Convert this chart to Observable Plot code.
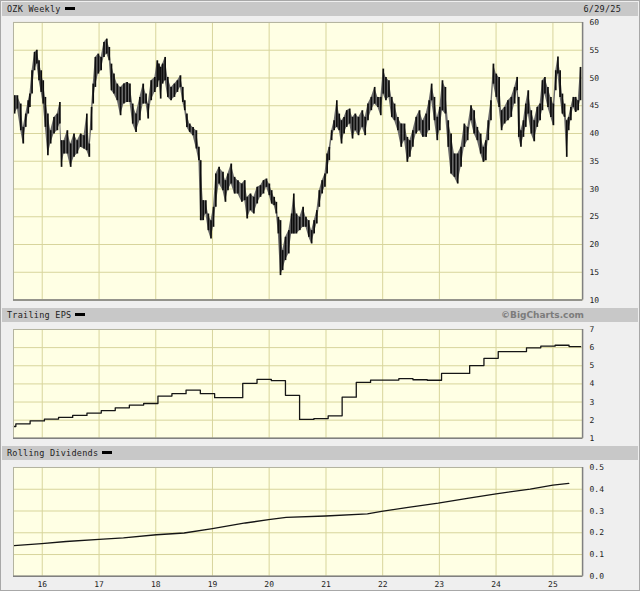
<!DOCTYPE html>
<html><head><meta charset="utf-8">
<script src="https://cdn.jsdelivr.net/npm/d3@7"></script>
<script src="https://cdn.jsdelivr.net/npm/@observablehq/plot@0.6"></script>
<style>
html,body{margin:0;padding:0;background:#efefef;}
#wrap{position:relative;width:640px;height:591px;background:#efefef;overflow:hidden;box-sizing:border-box;border:1px solid #a8a8a8;font-family:"DejaVu Sans Mono",monospace;}
.bar{position:absolute;left:1px;width:636px;height:14px;background:#c8c8c8;font-size:8.5px;letter-spacing:0.25px;line-height:14px;color:#222;}
.bar .l{position:absolute;left:5px;top:0;}
.bar .r{position:absolute;top:0;}
.dash{display:inline-block;width:10px;height:3px;background:#000;vertical-align:middle;margin-left:4px;position:relative;top:-1px;}
.pane{position:absolute;left:-1px;}
.bc{font-family:"DejaVu Sans",sans-serif;font-weight:bold;font-size:9px;color:#7c7c7c;letter-spacing:0;}
</style></head>
<body>
<div id="wrap">
  <div class="bar" style="top:1px"><span class="l">OZK Weekly<span class="dash"></span></span><span class="r" style="right:17px">6/29/25</span></div>
  <div class="pane" id="p1" style="top:-1px"></div>
  <div class="bar" style="top:307px"><span class="l">Trailing EPS<span class="dash"></span></span><span class="r bc" style="right:54px">©BigCharts.com</span></div>
  <div class="pane" id="p2" style="top:321px"></div>
  <div class="bar" style="top:445px"><span class="l">Rolling Dividends<span class="dash"></span></span></div>
  <div class="pane" id="p3" style="top:458px"></div>
</div>
<script>
// ---- Price (weekly bars, sampled high/low) ----
const priceYears = [2015.513,2015.563,2015.622,2015.666,2015.710,2015.754,2015.783,2015.821,2015.865,2015.906,2015.944,2015.982,2016.018,2016.056,2016.100,2016.149,2016.208,2016.267,2016.311,2016.340,2016.384,2016.443,2016.501,2016.560,2016.618,2016.677,2016.736,2016.785,2016.829,2016.868,2016.897,2016.935,2016.988,2017.037,2017.087,2017.137,2017.181,2017.219,2017.263,2017.322,2017.380,2017.439,2017.495,
2017.545,2017.594,2017.653,2017.720,2017.779,2017.829,2017.867,2017.920,2017.984,2018.028,2018.057,2018.087,2018.122,2018.166,2018.213,2018.271,2018.330,2018.383,2018.436,2018.477,2018.512,2018.550,2018.600,2018.658,2018.717,2018.761,2018.793,2018.837,2018.884,2018.928,2018.975,2019.019,2019.060,2019.118,2019.186,2019.230,2019.274,2019.332,2019.391,2019.450,2019.520,
2019.570,2019.614,2019.672,2019.731,2019.790,2019.848,2019.901,2019.954,2020.004,2020.045,2020.089,2020.127,2020.162,2020.200,2020.238,2020.288,2020.346,2020.396,2020.434,2020.481,2020.540,2020.598,2020.648,2020.698,2020.748,2020.792,2020.839,2020.883,2020.933,2020.982,2021.020,2021.059,2021.100,2021.144,2021.191,2021.234,2021.275,2021.320,2021.366,2021.419,2021.469,2021.519,2021.575,
2021.642,2021.692,2021.741,2021.800,2021.859,2021.917,2021.967,2022.011,2022.058,2022.111,2022.161,2022.210,2022.269,2022.328,2022.386,2022.436,2022.480,2022.533,2022.591,2022.650,2022.709,2022.767,2022.820,2022.864,2022.914,2022.964,2023.008,2023.055,2023.107,2023.157,2023.207,2023.266,2023.324,2023.383,2023.441,2023.500,2023.559,2023.614,
2023.670,2023.729,2023.778,2023.820,2023.863,2023.910,2023.954,2024.004,2024.054,2024.098,2024.151,2024.209,2024.268,2024.327,2024.371,2024.400,2024.438,2024.482,2024.523,2024.567,2024.620,2024.672,2024.725,2024.775,2024.816,2024.860,2024.913,2024.965,2025.009,2025.050,2025.089,2025.127,2025.168,2025.206,2025.244,2025.279,2025.317,2025.361,2025.402,2025.446,2025.487];
const priceHigh = [46.8,46.8,45.3,41.1,43.5,45.9,47.1,51.3,54.6,55.0,53.1,51.3,49.5,46.5,43.5,40.5,42.9,43.5,45.6,38.7,38.7,40.5,38.1,39.9,38.7,39.9,39.6,43.5,38.1,44.7,48.9,53.7,54.3,53.7,56.4,57.0,55.5,52.5,50.7,48.9,48.3,48.9,49.2,
48.9,45.3,43.5,46.5,48.9,47.1,45.3,49.5,50.1,53.1,52.5,51.9,52.5,53.7,50.1,48.3,48.9,49.5,50.4,48.3,45.9,43.5,41.7,41.1,40.5,37.5,35.1,27.9,27.9,25.5,24.3,26.7,32.7,33.9,33.0,31.5,32.7,34.5,32.1,31.5,30.9,
31.5,28.5,29.1,28.5,30.3,30.6,31.5,31.8,30.9,29.7,28.5,27.6,24.9,24.3,18.9,21.3,22.5,25.5,29.1,25.5,24.9,26.7,24.9,24.3,22.5,24.3,26.1,29.7,31.5,32.7,36.3,37.5,40.5,42.3,45.9,43.5,42.3,42.9,44.1,44.4,42.9,43.5,42.9,
44.1,42.9,45.3,46.5,48.3,46.5,46.5,51.6,50.1,49.5,46.5,45.3,42.9,41.7,41.7,39.3,38.7,40.5,42.9,44.1,42.3,43.5,45.9,48.9,46.5,42.9,44.7,49.5,48.3,42.3,39.9,36.3,36.3,37.5,41.7,41.1,45.0,44.1,
41.1,39.9,37.5,38.7,42.3,45.9,52.5,50.7,50.1,44.1,44.7,45.9,46.5,48.3,50.1,46.5,40.5,42.3,45.3,47.7,44.1,42.3,44.7,45.3,49.5,50.1,48.3,46.5,45.3,51.3,53.8,51.3,47.1,45.3,42.3,42.9,44.7,46.5,46.5,45.9,51.9];
const priceLow = [43.5,44.4,40.5,38.1,41.1,43.5,44.7,47.1,51.3,52.5,49.5,47.4,45.3,41.1,36.0,38.1,39.9,40.5,41.7,33.9,36.3,36.3,33.9,35.7,36.3,37.5,37.2,36.9,35.7,40.5,45.3,48.3,50.7,51.3,53.7,54.3,53.1,47.7,47.1,45.9,43.2,45.3,45.6,
45.6,41.7,40.2,42.3,45.3,45.3,42.6,45.9,47.4,48.3,49.5,46.2,48.9,49.5,46.5,45.9,46.5,47.4,48.3,45.6,44.1,41.1,40.2,39.6,37.2,35.1,24.3,24.3,25.5,22.5,21.0,23.1,26.7,30.9,29.7,27.6,29.7,30.9,29.1,29.1,27.6,
27.9,24.6,26.1,25.5,27.3,28.5,29.1,30.3,28.8,27.3,27.0,25.5,21.9,14.4,15.3,17.1,18.3,21.9,21.9,21.9,22.5,23.1,23.1,21.3,20.1,21.9,23.7,26.7,29.1,30.3,32.7,35.1,38.7,40.5,41.1,40.5,38.1,39.9,41.1,41.7,39.0,40.5,39.6,
41.1,39.6,42.3,44.1,45.3,44.7,43.2,47.1,45.9,46.5,42.9,42.3,40.5,37.5,38.7,34.8,35.7,37.5,39.9,40.5,39.3,39.3,40.5,45.9,42.3,38.7,40.5,44.1,43.5,37.5,32.7,32.1,30.9,33.9,37.5,38.7,42.3,39.9,
38.7,36.3,34.8,35.1,38.7,42.3,48.9,46.5,44.7,40.5,41.7,42.3,42.9,45.3,47.7,39.3,37.5,39.3,41.1,43.5,39.9,38.5,41.1,42.3,44.1,47.1,44.7,42.9,41.4,47.7,50.7,46.5,43.5,42.9,35.7,40.5,42.3,44.7,43.8,44.1,45.9];
const priceTicks = [10,15,20,25,30,35,40,45,50,55,60];

// ---- Trailing EPS (quarterly steps) ----
const epsDates = ["2015-06-30","2015-07-15","2015-10-15","2016-01-15","2016-04-15","2016-07-15","2016-10-15","2017-01-15","2017-04-15","2017-07-15","2017-10-15","2018-01-15","2018-04-15","2018-07-15","2018-10-15","2019-01-15","2019-07-15","2019-10-15","2020-01-15","2020-04-15","2020-07-15","2020-10-15","2021-01-15","2021-04-15","2021-07-15","2021-10-15","2022-04-15","2022-07-15","2022-10-15","2023-01-15","2023-07-15","2023-10-15","2024-01-15","2024-07-15","2024-10-15","2025-01-15","2025-04-15","2025-06-29"];
const epsValues = [1.65,1.80,1.96,2.06,2.15,2.26,2.39,2.53,2.68,2.83,2.92,3.33,3.46,3.66,3.46,3.24,4.03,4.25,4.18,3.37,2.04,2.09,2.24,3.27,4.08,4.21,4.29,4.23,4.20,4.58,5.01,5.41,5.78,5.99,6.08,6.13,6.06,6.06];
const epsTicks = [1,2,3,4,5,6,7];

// ---- Rolling dividends ----
const divYears = [2015.50,2015.99,2016.42,2017.00,2017.43,2018.01,2018.50,2019.00,2019.58,2019.99,2020.30,2020.99,2021.73,2021.98,2022.45,2022.98,2023.52,2024.00,2024.60,2025.00,2025.28];
const divValues = [0.141,0.150,0.160,0.170,0.177,0.191,0.199,0.219,0.245,0.260,0.271,0.277,0.287,0.298,0.317,0.336,0.359,0.379,0.401,0.419,0.427];
const divTicks = [0,0.1,0.2,0.3,0.4,0.5];
const divTickLabels = ["0.0","0.1","0.2","0.3","0.4","0.5"];

// ---- x axis ----
const yearTickDates = ["2016-01-01","2017-01-01","2018-01-01","2019-01-01","2020-01-01","2021-01-01","2022-01-01","2023-01-01","2024-01-01","2025-01-01"];
const yearLabels = ["16","17","18","19","20","21","22","23","24","25"];
const xStart = "2015-06-30", xEnd = "2025-07-11";

function fromDecimal(y){
  const yr = Math.floor(y);
  const a = Date.UTC(yr,0,1), b = Date.UTC(yr+1,0,1);
  return new Date(a + (y-yr)*(b-a));
}
const xDomain = [new Date(xStart), new Date(xEnd)];
const yearDates = yearTickDates.map(d => new Date(d));

const price = priceYears.map((y,i) => ({date: fromDecimal(y), hi: priceHigh[i], lo: priceLow[i]}));
const eps = epsDates.map((d,i) => ({date: new Date(d), v: epsValues[i]}));
const divs = divYears.map((y,i) => ({date: fromDecimal(y), v: divValues[i]}));

const GRID = "#d8d59c", BG = "#ffffe4";

function panel({height, marginTop, marginBottom, yDomain, yTicks, yFormat, marks, xAxis}){
  return Plot.plot({
    width: 640, height, marginLeft: 13, marginRight: 57, marginTop, marginBottom,
    style: {background: "transparent", fontFamily: "'DejaVu Sans Mono', monospace", fontSize: "8px", color: "#222", overflow: "visible"},
    x: {type: "utc", domain: xDomain, axis: null, label: null},
    y: {domain: yDomain, axis: null, label: null},
    marks: [
      Plot.frame({fill: BG, stroke: "none"}),
      Plot.gridX(yearDates, {stroke: GRID, strokeOpacity: 1, strokeWidth: 1}),
      Plot.gridY(yTicks, {stroke: GRID, strokeOpacity: 1, strokeWidth: 1}),
      ...marks,
      Plot.frame({stroke: "#b4b4a0", strokeWidth: 1}),
      Plot.ruleY([yDomain[0]], {stroke: "#808080", strokeWidth: 1.5}),
      Plot.ruleX([xDomain[1]], {stroke: "#808080", strokeWidth: 1.5}),
      Plot.axisY(yTicks, {anchor: "right", tickSize: 0, tickPadding: 7, tickFormat: yFormat, fill: "#222", label: null}),
      xAxis ? Plot.axisX(yearDates, {anchor: "bottom", tickSize: 0, tickPadding: 5, fill: "#222", label: null,
        tickFormat: d => yearLabels[yearDates.findIndex(t => +t === +d)]}) : null
    ]
  });
}

document.getElementById("p1").appendChild(panel({
  height: 306, marginTop: 22, marginBottom: 6, yDomain: [10, 60], yTicks: priceTicks, yFormat: d => String(d),
  marks: [
    Plot.areaY(price, {x: "date", y1: "lo", y2: "hi", fill: "#6a6a6a", curve: "linear"}),
    Plot.ruleX(price, {x: "date", y1: "lo", y2: "hi", stroke: "#0d0d0d", strokeWidth: 1.7})
  ]
}));
document.getElementById("p2").appendChild(panel({
  height: 123, marginTop: 7, marginBottom: 7, yDomain: [1, 7], yTicks: epsTicks, yFormat: d => String(d),
  marks: [Plot.line(eps, {x: "date", y: "v", curve: "step-after", stroke: "#151515", strokeWidth: 1.3})]
}));
document.getElementById("p3").appendChild(panel({
  height: 133, marginTop: 8, marginBottom: 16, yDomain: [0, 0.5], yTicks: divTicks,
  yFormat: d => divTickLabels[divTicks.indexOf(d)],
  marks: [Plot.line(divs, {x: "date", y: "v", stroke: "#151515", strokeWidth: 1.3})],
  xAxis: true
}));
</script>
</body></html>
